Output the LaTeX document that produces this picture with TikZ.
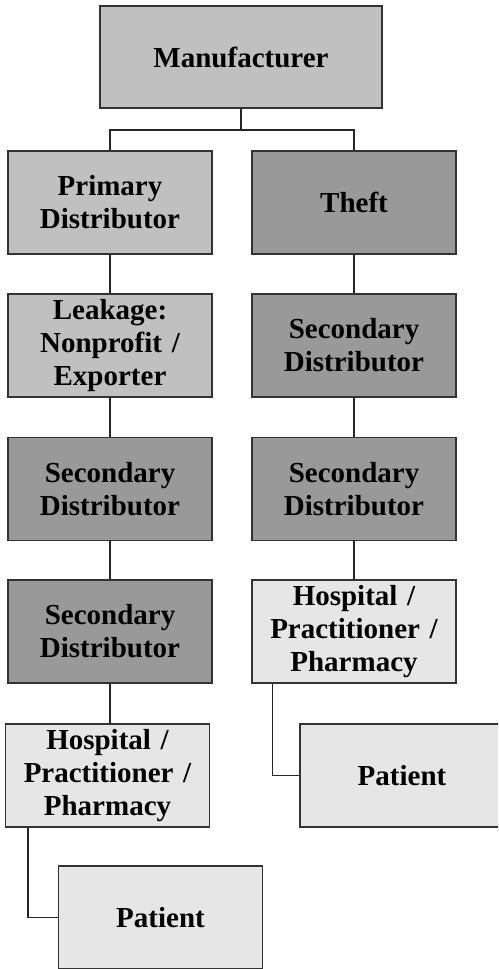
\documentclass[tikz,border=0pt]{standalone}
\usepackage{fontspec}
\setmainfont{Liberation Serif}
\usepackage{tikz}
\usetikzlibrary{positioning}
\definecolor{midgray}{HTML}{C0C0C0}
\definecolor{darkgray}{HTML}{999999}
\definecolor{palegray}{HTML}{E6E6E6}
\definecolor{edgegray}{HTML}{333333}
\begin{document}
\begin{tikzpicture}[x=1pt,y=1pt,
  box/.style={draw=edgegray,line width=1.1pt,minimum width=204pt,minimum height=103pt,
    text width=198pt,align=center,inner sep=0pt,
    font=\fontsize{29}{33}\selectfont\bfseries},
  legal/.style={box,fill=midgray},
  illegal/.style={box,fill=darkgray},
  endpoint/.style={box,fill=palegray},
  link/.style={draw=black!85,line width=1.2pt}]
\useasboundingbox (0,0) rectangle (498,-969);
\clip (0,0) rectangle (498,-969);
\node[legal,minimum width=282pt,text width=270pt,minimum height=102pt] (man) at (241,-57) {Manufacturer};
% left chain
\node[legal] (prim) at (110,-202.5) {Primary\\Distributor};
\node[legal] (leak) at (110,-345.5) {Leakage:\\Nonprofit /\\Exporter};
\node[illegal] (secLa) at (110,-489) {Secondary\\Distributor};
\node[illegal] (secLb) at (110,-631.5) {Secondary\\Distributor};
\node[endpoint] (hospL) at (107.5,-775.5) {Hospital /\\Practitioner /\\Pharmacy};
\node[endpoint] (patL) at (160.5,-917.5) {Patient};
% right chain
\node[illegal] (theft) at (354,-202.5) {Theft};
\node[illegal] (secRa) at (354,-345.5) {Secondary\\Distributor};
\node[illegal] (secRb) at (354,-489) {Secondary\\Distributor};
\node[endpoint] (hospR) at (354,-631.5) {Hospital /\\Practitioner /\\Pharmacy};
\node[endpoint,minimum width=212pt] (patR) at (406,-775.5) {\hspace*{-8pt}Patient};
\coordinate (split) at (241,-130);
\path[link]
(man.south) -- (split) -| (prim.north)
(split) -| (theft.north)
(prim) -- (leak)
(leak) -- (secLa)
(secLa) -- (secLb)
(secLb.south) -- (secLb.south |- hospL.north)
([xshift=23pt]hospL.south west) |- (patL.west)
(theft) -- (secRa)
(secRa) -- (secRb)
(secRb) -- (hospR)
([xshift=21pt]hospR.south west) |- (patR.west);
\end{tikzpicture}
\end{document}
